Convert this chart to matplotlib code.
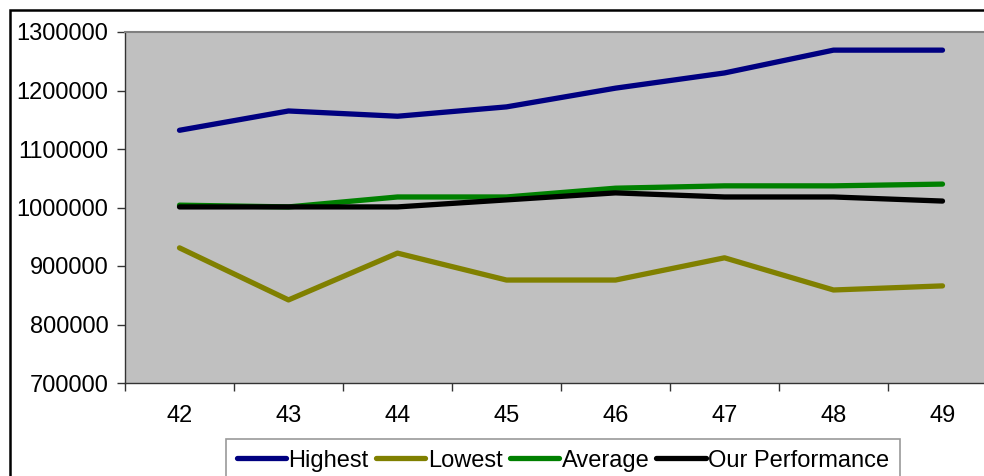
import matplotlib
matplotlib.use("Agg")
import matplotlib.pyplot as plt
from matplotlib.patches import Rectangle

plt.rcParams['font.family'] = ['Liberation Sans', 'DejaVu Sans']

weeks = ['42', '43', '44', '45', '46', '47', '48', '49']
highest = [1132000, 1165000, 1156000, 1172000, 1204000, 1230000, 1269000, 1269000]
lowest = [931000, 842000, 922000, 876000, 876000, 914000, 859000, 866000]
average = [1004000, 1001000, 1018000, 1018000, 1033000, 1037000, 1037000, 1040000]
ours = [1001000, 1001000, 1001000, 1013000, 1025000, 1018000, 1018000, 1011000]

series = [
    ('Highest', highest, '#000080'),
    ('Lowest', lowest, '#808000'),
    ('Average', average, '#008000'),
    ('Our Performance', ours, '#000000'),
]

W, H = 984, 476
fig = plt.figure(figsize=(W / 100, H / 100), dpi=100)

# outer chart border (cut off at right and bottom like the reference)
fig.patches.append(Rectangle((10 / W, -0.1), 1.2, 1 - 10 / H + 0.1,
                             transform=fig.transFigure, fill=False,
                             edgecolor='black', linewidth=1.8))

ax = fig.add_axes([125 / W, 1 - 383 / H, (997 - 125) / W, (383 - 32) / H])
ax.set_facecolor('#c0c0c0')

x = list(range(len(weeks)))
for name, vals, col in series:
    ax.plot(x, vals, color=col, linewidth=3.8, label=name,
            solid_capstyle='round', solid_joinstyle='round')

ax.set_xlim(-0.5, len(weeks) - 0.5)
ax.set_ylim(700000, 1300000)
ax.set_yticks(range(700000, 1300001, 100000))
ax.set_yticklabels([str(v) for v in range(700000, 1300001, 100000)])
ax.set_xticks(x)
ax.set_xticklabels(weeks)
ax.set_xticks([i - 0.5 for i in range(len(weeks) + 1)], minor=True)
ax.tick_params(axis='x', which='major', length=0, pad=16, labelsize=17)
ax.tick_params(axis='x', which='minor', length=6, width=1, color='#333333')
ax.tick_params(axis='y', length=6, width=1, pad=6, labelsize=17, color='#333333')

for s in ['left', 'bottom']:
    ax.spines[s].set_color('#333333')
    ax.spines[s].set_linewidth(1)
ax.spines['top'].set_color('#808080')
ax.spines['top'].set_linewidth(1.5)
ax.spines['right'].set_visible(False)

leg = fig.legend(loc='upper center', bbox_to_anchor=(563 / W, 1 - 439 / H),
                 ncol=4, fontsize=17, frameon=True, fancybox=False,
                 handlelength=2.1, handletextpad=0.1, columnspacing=0.3,
                 borderpad=0.45, borderaxespad=0)
leg.get_frame().set_edgecolor('#808080')
leg.get_frame().set_linewidth(1.2)
for line in leg.get_lines():
    line.set_linewidth(3.8)

fig.savefig('out.png', dpi=100)
